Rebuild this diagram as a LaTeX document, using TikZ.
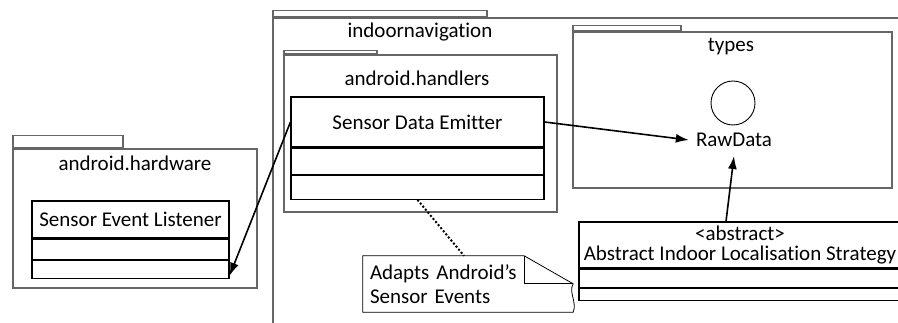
\documentclass[tikz,border=0pt]{standalone}
\usepackage{fontspec}
\setmainfont{Carlito}[Ligatures={TeX,NoCommon}]
\usetikzlibrary{arrows.meta, positioning, calc}

\begin{document}
\begin{tikzpicture}[
    x=1pt, y=-1pt,
    every node/.style={font=\fontsize{21}{20}\selectfont, align=center, inner sep=0pt},
    pkgbody/.style={draw=black!60, line width=1.3pt},
    pkgtab/.style={draw=black!60, line width=1.3pt},
    classbox/.style={draw, line width=1.1pt, fill=white},
    dep/.style={-{Latex[length=13pt, width=9pt]}, line width=1.6pt},
    notedraw/.style={line width=0.8pt}
]
\clip (0,0) rectangle (898,323);

% packages
\node[pkgbody, minimum width=687pt, minimum height=322pt] (navpkg) at (616.5,179) {};
\node[pkgtab, minimum width=214pt, minimum height=6pt, above right=0pt of navpkg.north west] (navtab) {};
\node (navtitle) at (420,32) {indoornavigation};

\node[pkgbody, minimum width=244pt, minimum height=139pt] (hwpkg) at (135,218.5) {};
\node[pkgtab, minimum width=110pt, minimum height=12pt, above right=0pt of hwpkg.north west] (hwtab) {};
\node (hwtitle) at (135,163) {android.hardware};

\node[pkgbody, minimum width=273pt, minimum height=157pt] (hdpkg) at (420.5,133.5) {};
\node[pkgtab, minimum width=93pt, minimum height=3pt, above right=0pt of hdpkg.north west] (hdtab) {};
\node (hdtitle) at (417,78) {android.handlers};

\node[pkgbody, minimum width=319pt, minimum height=156pt] (typkg) at (732.5,110) {};
\node[pkgtab, minimum width=108pt, minimum height=5pt, above right=0pt of typkg.north west] (tytab) {};
\node (tytitle) at (731,47) {types};

% classes
\node[classbox, minimum width=197pt, minimum height=37pt] (sel) at (130.5,219.5) {Sensor Event Listener};
\node[classbox, minimum width=197pt, minimum height=20pt, below=0pt of sel] (sel2) {};
\node[classbox, minimum width=197pt, minimum height=18pt, below=0pt of sel2] (sel3) {};

\node[classbox, minimum width=253pt, minimum height=50pt] (sde) at (417.5,122) {Sensor Data Emitter};
\node[classbox, minimum width=253pt, minimum height=26pt, below=0pt of sde] (sde2) {};
\node[classbox, minimum width=253pt, minimum height=24pt, below=0pt of sde2] (sde3) {};

\node[classbox, minimum width=322pt, minimum height=46pt] (ails) at (740,245)
    {<abstract>\\Abstract Indoor Localisation Strategy};
\node[classbox, minimum width=322pt, minimum height=18pt, below=0pt of ails] (ails2) {};
\node[classbox, minimum width=322pt, minimum height=12pt, below=0pt of ails2] (ails3) {};

% interface
\node[draw, circle, line width=0.9pt, minimum size=44pt] (rawicon) at (733,103) {};
\node[inner xsep=7pt, inner ysep=9pt] (raw) at (734,140) {RawData};

% note
\node[minimum width=210pt, minimum height=56pt, text width=196pt, align=left,
      font=\fontsize{21}{24}\selectfont] (note) at (468,284)
    {Adapts Android's\\Sensor Events};
\draw[notedraw] (note.north west) -- ([xshift=-49pt]note.north east)
    -- ([yshift=-28pt]note.north east)
    .. controls ([xshift=-5pt,yshift=-36pt]note.north east) and ([xshift=4pt,yshift=-46pt]note.north east) .. (note.south east)
    -- (note.south west) -- cycle;
\draw[notedraw] ([xshift=-49pt]note.north east) |- ([yshift=-28pt]note.north east);

% connectors
\draw[dep] (sde.west) -- ([yshift=3pt]sel3.south east);
\draw[dep] (sde.east) -- (raw.west);
\draw[dep] ([xshift=-14pt]ails.north) -- (raw.south);
\draw[dotted, line width=2pt] (sde3.south) -- ([xshift=-4pt]note.north);
\end{tikzpicture}
\end{document}
